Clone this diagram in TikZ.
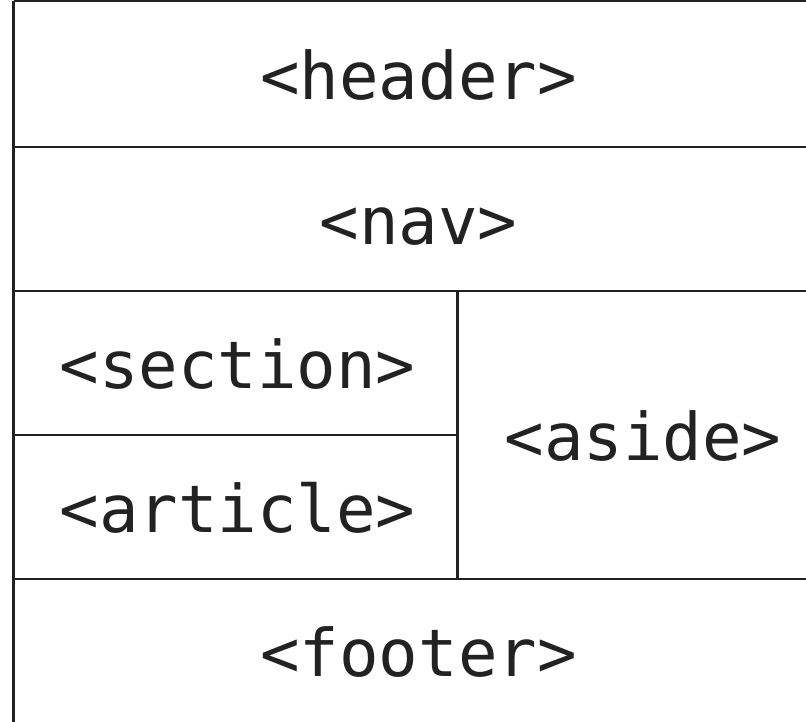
\documentclass[tikz,border=0pt]{standalone}
\usepackage{fontspec}
\setmonofont{DejaVu Sans Mono}
\begin{document}
\begin{tikzpicture}[x=1pt,y=-1pt,
  rule/.style={draw=ink,line width=2pt},
  wall/.style={draw=ink,line width=2.6pt},
  tag/.style={text=ink,font=\ttfamily\fontsize{65.7}{66}\selectfont,anchor=base,inner sep=0pt}]
\definecolor{ink}{HTML}{222222}
\useasboundingbox (0,0) rectangle (806,722);
\clip (0,0) rectangle (806,722);
% frame corners
\coordinate (tl) at (13.5,1);
\coordinate (tr) at (824,1);
\coordinate (bl) at (13.5,724);
% outer frame
\draw[rule] (tl) -- (tr);
\draw[wall] (tl) -- (bl);
% row separators
\coordinate (r1l) at (13.5,147);  \coordinate (r1r) at (824,147);
\coordinate (r2l) at (13.5,291);  \coordinate (r2r) at (824,291);
\coordinate (r3l) at (13.5,435);  \coordinate (r3r) at (457.5,435);
\coordinate (r4l) at (13.5,579);  \coordinate (r4r) at (824,579);
\draw[rule] (r1l) -- (r1r);
\draw[rule] (r2l) -- (r2r);
\draw[rule] (r3l) -- (r3r);
\draw[rule] (r4l) -- (r4r);
% column divider beside the aside
\coordinate (ct) at (457.5,291);
\coordinate (cb) at (457.5,579);
\draw[wall] (ct) -- (cb);
% labels
\node[tag] (header)  at (418.5,100) {<header>};
\node[tag] (nav)     at (418.5,244) {<nav>};
\node[tag] (section) at (237.5,388) {<section>};
\node[tag] (article) at (237.5,532) {<article>};
\node[tag] (aside)   at (643,460)   {<aside>};
\node[tag] (footer)  at (418.5,676) {<footer>};
\end{tikzpicture}
\end{document}
